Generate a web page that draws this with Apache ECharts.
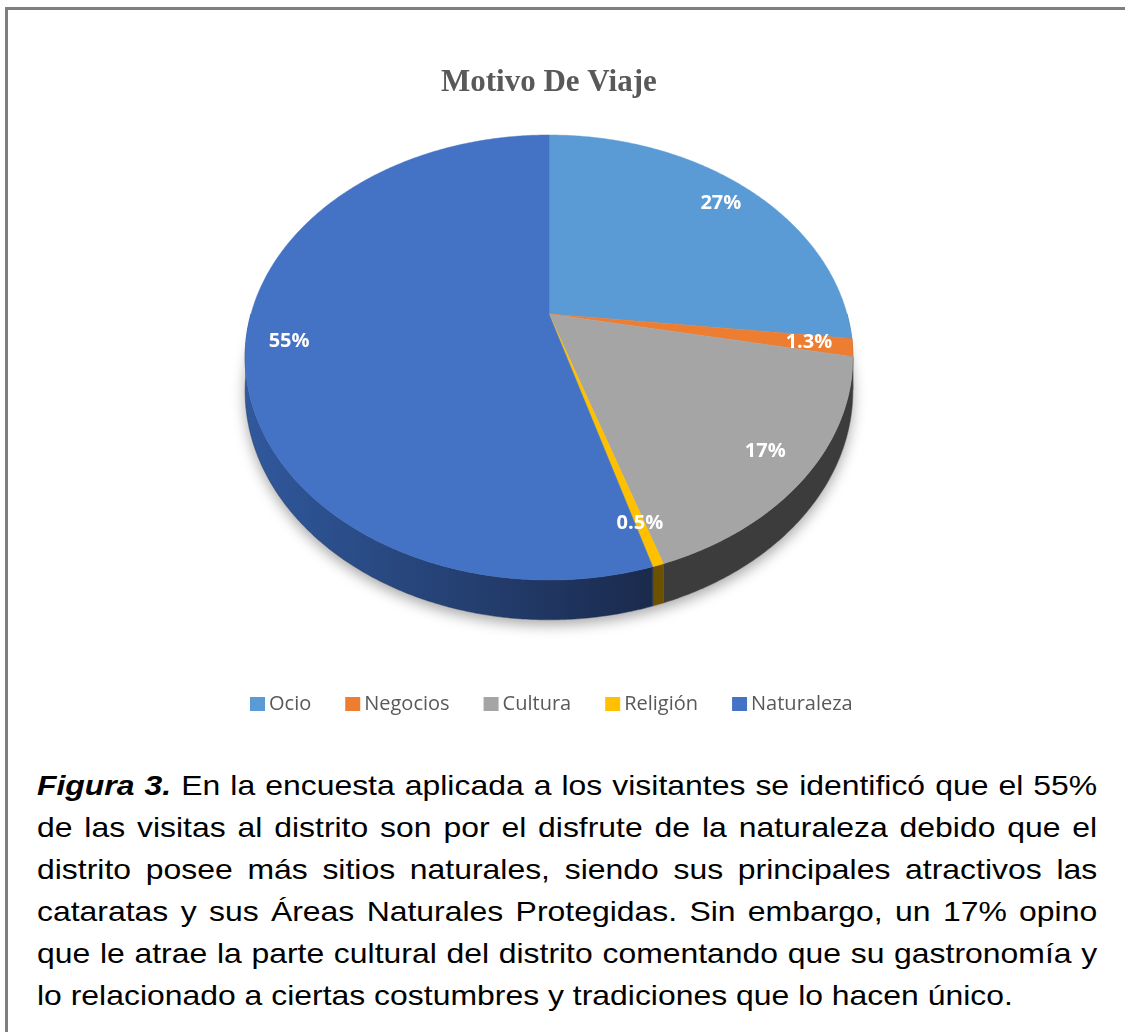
<!DOCTYPE html>
<html>
<head>
<meta charset="utf-8">
<script src="https://cdn.jsdelivr.net/npm/echarts@6/dist/echarts.min.js"></script>
<style>
  html, body { margin: 0; padding: 0; background: #fff; width: 1125px; height: 1032px; overflow: hidden; }
  #frame { position: absolute; left: 5px; top: 7px; width: 1200px; height: 1100px; border-top: 3px solid #7f7f7f; border-left: 3px solid #7f7f7f; box-sizing: border-box; }
  #chart { position: absolute; left: 0; top: 0; width: 1125px; height: 740px; }
  #cap { position: absolute; left: 37px; top: 765px; width: 930px; font-family: "Liberation Sans", Arial, sans-serif; font-size: 28px; line-height: 42px; color: #000; transform: scaleX(1.14); transform-origin: 0 0; }
  #cap div { text-align: justify; text-align-last: justify; white-space: nowrap; }
  #cap div.last { text-align-last: left; }
</style>
</head>
<body>
<div id="frame"></div>
<div id="chart"></div>
<div id="cap">
  <div><b><i>Figura 3.</i></b> En la encuesta aplicada a los visitantes se identificó que el 55%</div>
  <div>de las visitas al distrito son por el disfrute de la naturaleza debido que el</div>
  <div>distrito posee más sitios naturales, siendo sus principales atractivos las</div>
  <div>cataratas y sus Áreas Naturales Protegidas. Sin embargo, un 17% opino</div>
  <div>que le atrae la parte cultural del distrito comentando que su gastronomía y</div>
  <div class="last">lo relacionado a ciertas costumbres y tradiciones que lo hacen único.</div>
</div>
<script>
// ---- data ----
const title = 'Motivo De Viaje';
const categories = ['Ocio', 'Negocios', 'Cultura', 'Religión', 'Naturaleza'];
const values = [27, 1.3, 17, 0.5, 55];

// ---- styles ----
const topColors = ['#5b9bd5', '#ed7d31', '#a5a5a5', '#ffc000', '#4472c4'];
const wallColors = [
  ['#41719c', '#3a6690'],
  ['#ae5a21', '#9c501d'],
  ['#4a4a4a', '#3c3c3c'],
  ['#7f6000', '#6b5100'],
  ['#30589c', '#1a2a4c']
];

// perspective pie geometry
const CX = 549, CY = 314, RA = 214, RB = 298, K = 0.1955, DEPTH = 32;
const total = values.reduce((a, b) => a + b, 0);

function proj(tDeg, r, h) {
  const a = tDeg * Math.PI / 180;
  const X = r * Math.sin(a), Z = r * Math.cos(a);
  const d = 1 + K * Z;
  return [CX + RB * X / d, CY - RA * Z / d + DEPTH * h / d];
}
function arc(t0, t1, r, h) {
  const n = Math.max(2, Math.ceil(Math.abs(t1 - t0) / 0.5));
  const pts = [];
  for (let j = 0; j <= n; j++) pts.push(proj(t0 + (t1 - t0) * j / n, r, h));
  return pts;
}

// cumulative ranges derived from values
const starts = [];
let acc = 0;
values.forEach(v => { starts.push(acc); acc += v; });

function renderItem(params, api) {
  const i = params.seriesIndex;
  const s = api.value(0), e = api.value(1), v = api.value(2);
  const t0 = s / total * 360, t1 = e / total * 360;
  const children = [];
  if (i === 0) {
    children.push({
      type: 'polygon', z2: -5,
      shape: { points: arc(0, 360, 1, 1) },
      style: { fill: '#ffffff', shadowBlur: 14, shadowOffsetY: 5, shadowColor: 'rgba(0,0,0,0.35)' }
    });
  }
  const w0 = Math.max(t0, 90), w1 = Math.min(t1, 270);
  if (w1 > w0) {
    const topE = arc(w0, w1, 1, 0);
    const botE = arc(w0, w1, 1, 1).reverse();
    children.push({
      type: 'polygon', z2: 1,
      shape: { points: topE.concat(botE) },
      style: {
        fill: new echarts.graphic.LinearGradient(CX - RB, 0, CX + RB * 0.35, 0, [
          { offset: 0, color: wallColors[i][0] },
          { offset: 1, color: wallColors[i][1] }
        ], true),
        stroke: wallColors[i][1], lineWidth: 0.5
      }
    });
  }
  const face = [proj(0, 0, 0)].concat(arc(t0, t1, 1, 0));
  children.push({
    type: 'polygon', z2: 10,
    shape: { points: face },
    style: { fill: topColors[i], stroke: topColors[i], lineWidth: 0.5 }
  });
  const mid = (t0 + t1) / 2;
  const p = proj(mid, 0.86, 0);
  children.push({
    type: 'text', z2: 20, x: p[0], y: p[1],
    style: {
      text: v + '%', fill: '#ffffff',
      font: 'bold 20px "Open Sans", "Noto Sans", sans-serif',
      align: 'center', verticalAlign: 'middle'
    }
  });
  return { type: 'group', children };
}

const chart = echarts.init(document.getElementById('chart'), null, { renderer: 'canvas' });
chart.setOption({
  animation: false,
  color: topColors,
  title: {
    text: title, left: 436, top: 62,
    textStyle: { fontFamily: '"Liberation Serif", "Times New Roman", serif', fontWeight: 'bold', fontSize: 31, color: '#595959' }
  },
  legend: {
    data: categories, top: 689, left: 245, icon: 'rect',
    itemWidth: 15, itemHeight: 14, itemGap: 34,
    textStyle: { fontFamily: '"Open Sans", "Noto Sans", sans-serif', fontSize: 20, color: '#595959', padding: [0, 0, 0, -1] }
  },
  series: categories.map((name, i) => ({
    type: 'custom', name: name, coordinateSystem: 'none',
    itemStyle: { color: topColors[i] },
    renderItem: renderItem,
    data: [[starts[i], starts[i] + values[i], values[i]]]
  }))
});
</script>
</body>
</html>
